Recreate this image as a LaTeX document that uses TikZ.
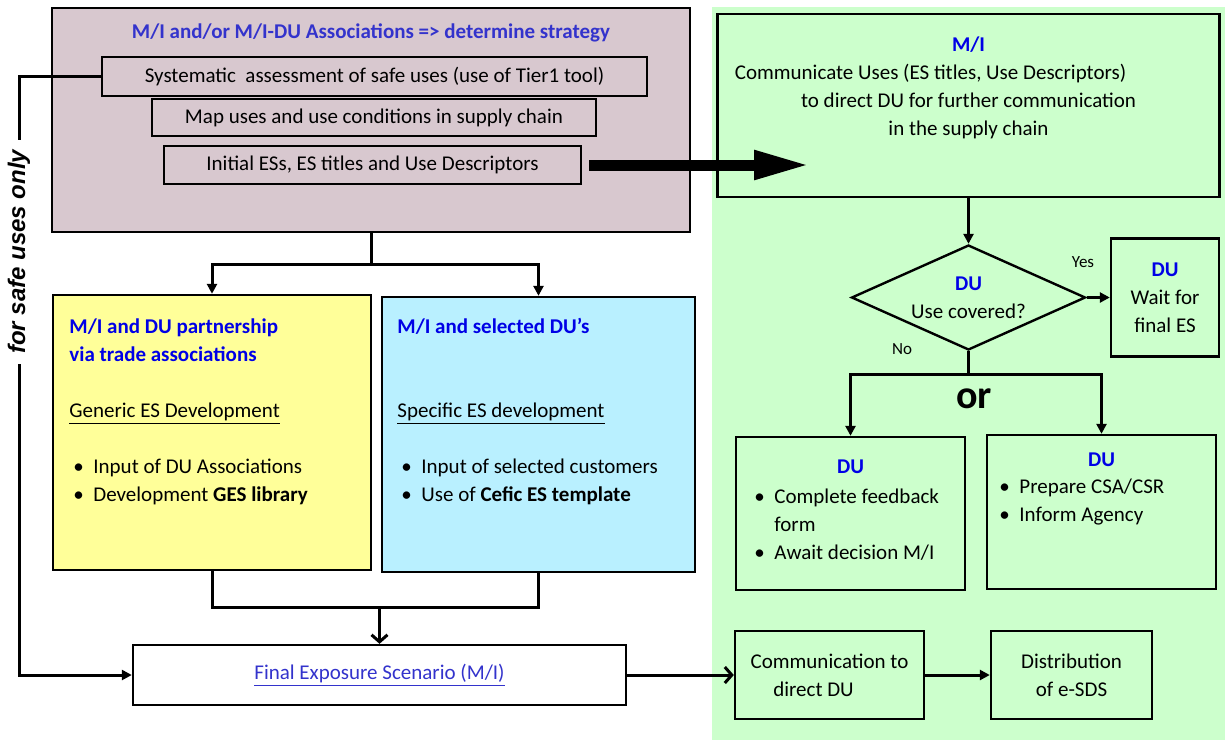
\documentclass[tikz,border=0pt]{standalone}
\usepackage{fontspec}
\setmainfont{Carlito}
\newfontfamily\safefont{Liberation Sans}
\usetikzlibrary{arrows.meta,shapes.geometric}

\definecolor{stratfill}{RGB}{216,200,207}
\definecolor{genfill}{RGB}{255,255,153}
\definecolor{specfill}{RGB}{185,240,255}
\definecolor{dufill}{RGB}{204,255,204}
\definecolor{headblue}{RGB}{51,51,204}
\definecolor{dublue}{RGB}{0,0,230}
\newcommand{\esbullet}{\makebox[12pt][l]{\hspace*{2pt}\textbullet}}
\newcommand{\esindent}{\hspace*{12pt}}

\begin{document}
\begin{tikzpicture}[x=0.5pt,y=-0.5pt,
    font=\fontsize{10.5}{14}\selectfont,
    >={Triangle[length=5pt,width=5pt]},
    esbox/.style={draw=black,line width=1.2pt,inner sep=0pt,align=center},
    flow/.style={line width=1.5pt,->},
    barb/.style={line width=1.5pt,-{Straight Barb[length=3.5pt,width=8pt]}},
    headtext/.style={font=\fontsize{10.5}{14}\selectfont\bfseries}]
  \useasboundingbox (0,0) rectangle (1225,740);
  \fill[dufill] (712,7) rectangle (1225,740);

  % boxes
  \begin{scope}[every node/.style={esbox}]
    \node[fill=stratfill,minimum width=319pt,minimum height=112pt] (strategy) at (371,120) {};
    \node[minimum width=272.5pt,minimum height=19.5pt] (assess) at (374.5,76.5) {Systematic~ assessment of safe uses (use of Tier1 tool)};
    \node[minimum width=222pt,minimum height=18.5pt] (map) at (374,117.5) {Map uses and use conditions in supply chain};
    \node[minimum width=208.5pt,minimum height=19pt] (initial) at (372.5,165) {Initial ESs, ES titles and Use Descriptors};
    \node[fill=genfill,minimum width=159pt,minimum height=137.5pt] (generic) at (212,432.5) {};
    \node[fill=specfill,minimum width=156.5pt,minimum height=137.5pt] (specific) at (538.5,434.5) {};
    \node[fill=white,minimum width=246.5pt,minimum height=30pt] (final) at (379.5,675) {\color{headblue}\underline{Final Exposure Scenario (M/I)}};
    \node[minimum width=251pt,minimum height=91.5pt] (communicate) at (968.5,105.5) {};
    \node[diamond,aspect=2.23,minimum width=117pt,minimum height=52.5pt] (covered) at (968.5,297.5) {{\color{dublue}\bfseries DU}\\Use covered?};
    \node[minimum width=54pt,minimum height=59pt] (wait) at (1165,297.5) {{\color{dublue}\bfseries DU}\\Wait for\\final ES};
    \node[minimum width=114.5pt,minimum height=76.5pt] (feedback) at (850.5,513.5) {};
    \node[minimum width=114.5pt,minimum height=77pt] (csa) at (1101.5,512) {};
    \node[minimum width=94.5pt,minimum height=44pt] (comm) at (829.5,675) {Communication to\\direct DU\hspace*{16pt}\null};
    \node[minimum width=80.5pt,minimum height=44pt] (dist) at (1071.5,675) {Distribution\\of e-SDS};
  \end{scope}

  % texts
  \begin{scope}[every node/.style={inner sep=0pt}]
    \node[headtext,text=headblue] (strategytitle) at (371,33) {M/I and/or M/I-DU Associations => determine strategy};
    \node[align=center] (communicatetext) at (968.5,88) {{\color{dublue}\bfseries M/I}\\Communicate Uses (ES titles, Use Descriptors)\hspace*{38pt}\null\\to direct DU for further communication\\in the supply chain};
    \node[anchor=base west] (generictext) at (69,333) {\begin{tabular}[t]{@{}l@{}}
      {\color{dublue}\bfseries M/I and DU partnership}\\
      {\color{dublue}\bfseries via trade associations}\\
      \\
      \underline{Generic ES Development}\\
      \\
      \esbullet Input of DU Associations\\
      \esbullet Development \textbf{GES library}
    \end{tabular}};
    \node[anchor=base west] (specifictext) at (397,333) {\begin{tabular}[t]{@{}l@{}}
      {\color{dublue}\bfseries M/I and selected DU’s}\\
      \\
      \\
      \underline{Specific ES development}\\
      \\
      \esbullet Input of selected customers\\
      \esbullet Use of \textbf{Cefic ES template}
    \end{tabular}};
    \node[font=\fontsize{8.5}{10}\selectfont] (yes) at (1083,262) {Yes};
    \node[font=\fontsize{8.5}{10}\selectfont] (no) at (902,349) {No};
    \node[font=\fontsize{20}{24}\selectfont\bfseries] (or) at (974,399) {or};
    \node[headtext,text=dublue] (feedbacktitle) at (850.5,467) {DU};
    \node[anchor=base west] (feedbacklist) at (750,503) {\begin{tabular}[t]{@{}l@{}}
      \esbullet Complete feedback\\
      \esindent form\\
      \esbullet Await decision M/I
    \end{tabular}};
    \node[headtext,text=dublue] (csatitle) at (1101.5,460) {DU};
    \node[anchor=base west] (csalist) at (995,493) {\begin{tabular}[t]{@{}l@{}}
      \esbullet Prepare CSA/CSR\\
      \esbullet Inform Agency
    \end{tabular}};
  \end{scope}

  % connectors
  \draw[flow] (strategy.south) -- ++(0,31) -| (generic.north);
  \draw[flow] (strategy.south) -- ++(0,31) -| (specific.north);
  \coordinate (join) at (379.5,607);
  \draw[line width=1.5pt] (generic.south) |- (join) -| (specific.south);
  \draw[barb] (join) -- (final.north);
  \coordinate (safetop) at (19,76.5);
  \coordinate (safebot) at (19,675);
  \draw[flow] (assess.west) -- (safetop)
    -- node[pos=0.293,rotate=90,fill=white,inner xsep=5pt,inner ysep=1pt,
            font=\safefont\fontsize{12}{14}\selectfont\bfseries\itshape] (safe) {for safe uses only}
    (safebot) -- (final.west);
  \draw[barb] (final.east) -- (comm.west);
  \draw[flow] (comm) -- (dist);
  \draw[flow] (communicate.south) -- (covered.north);
  \draw[flow] (covered.east) -- (wait.west);
  \coordinate (split) at (968.5,374);
  \draw[line width=1.5pt] (covered.south) -- (split);
  \draw[flow] (split) -| (feedback.north);
  \draw[flow] (split) -| (csa.north);
  \coordinate (esarrow) at (810,165);
  \draw[line width=5.5pt,-{Triangle[length=28pt,width=13.5pt]},shorten <=3.5pt] (initial.east) -- (esarrow);
\end{tikzpicture}
\end{document}
